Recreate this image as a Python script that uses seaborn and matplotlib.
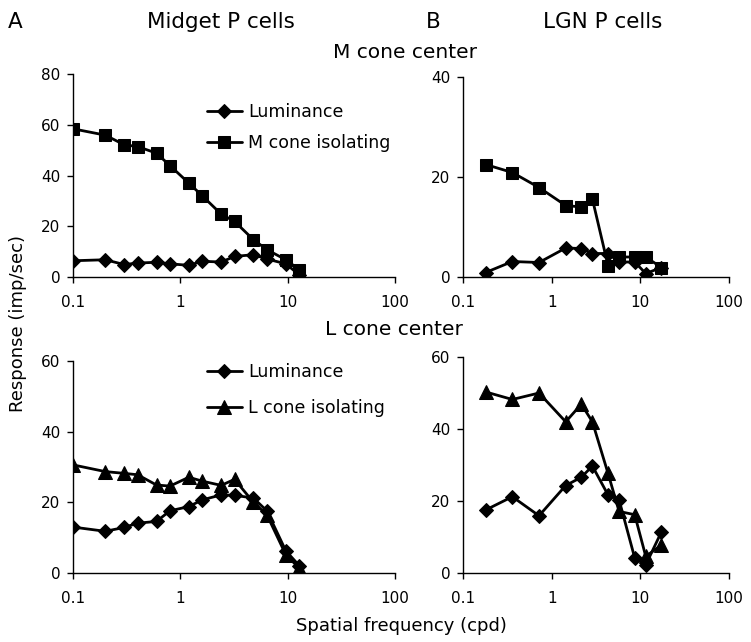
import matplotlib
matplotlib.use("Agg")
import matplotlib.pyplot as plt
import seaborn as sns
import pandas as pd

# ---- data ----
x_midget = [0.1, 0.2, 0.3, 0.4, 0.6, 0.8, 1.2, 1.6, 2.4, 3.2, 4.8, 6.4, 9.6, 12.8]
midget_M_lum = [6.4, 6.8, 4.9, 5.5, 5.8, 5.2, 4.6, 6.2, 5.9, 8.1, 8.8, 7.1, 5.2, 0.9]
midget_M_iso = [58.4, 55.9, 52.1, 51.4, 48.8, 43.9, 37.0, 32.0, 24.8, 21.9, 14.7, 10.8, 6.8, 2.6]
midget_L_lum = [13.0, 11.8, 12.9, 14.1, 14.6, 17.6, 18.8, 20.7, 22.1, 22.0, 21.2, 17.6, 6.3, 2.1]
midget_L_iso = [30.6, 28.7, 28.2, 27.8, 24.9, 24.6, 27.1, 26.0, 24.8, 26.5, 20.0, 16.5, 5.2, 1.4]

x_lgn = [0.18, 0.36, 0.72, 1.44, 2.16, 2.88, 4.32, 5.76, 8.64, 11.52, 17.28]
lgn_M_lum = [0.9, 3.1, 2.9, 5.8, 5.7, 4.7, 4.7, 3.0, 3.0, 0.7, 1.9]
lgn_M_iso = [22.5, 20.9, 17.9, 14.3, 14.0, 15.6, 2.3, 4.0, 4.0, 4.0, 1.9]
lgn_L_lum = [17.5, 21.2, 15.9, 24.3, 26.6, 29.7, 21.7, 20.3, 4.2, 2.3, 11.4]
lgn_L_iso = [50.3, 48.2, 50.0, 42.0, 46.9, 42.0, 27.7, 17.1, 16.2, 4.6, 7.8]

x_ticks = [0.1, 1, 10, 100]
x_ticklabels = ["0.1", "1", "10", "100"]
labels_M = ["Luminance", "M cone isolating"]
labels_L = ["Luminance", "L cone isolating"]

sns.set_style("ticks")
plt.rcParams["font.family"] = ["DejaVu Sans"]
plt.rcParams["text.color"] = "black"
plt.rcParams["axes.labelcolor"] = "black"

W, H = 751, 642
fig = plt.figure(figsize=(W / 100, H / 100), dpi=100)


def px_axes(left, top, right, bottom):
    return fig.add_axes([left / W, 1 - bottom / H, (right - left) / W, (bottom - top) / H])


ax_tl = px_axes(73, 74, 395, 277)
ax_tr = px_axes(463, 77, 729, 277)
ax_bl = px_axes(73, 361, 395, 573)
ax_br = px_axes(463, 357, 729, 573)


def draw(ax, x, lum, iso, iso_marker, iso_ms, labels, ymax, ystep):
    df1 = pd.DataFrame({"x": x, "y": lum})
    df2 = pd.DataFrame({"x": x, "y": iso})
    sns.lineplot(data=df1, x="x", y="y", ax=ax, color="black", lw=2.0, marker="D",
                 markersize=6.8, markeredgecolor="black", estimator=None, sort=False,
                 label=labels[0])
    sns.lineplot(data=df2, x="x", y="y", ax=ax, color="black", lw=2.0, marker=iso_marker,
                 markersize=iso_ms, markeredgecolor="black", estimator=None, sort=False,
                 label=labels[1])
    ax.set_xscale("log")
    ax.set_xlim(0.1, 100)
    ax.set_ylim(0, ymax)
    ax.set_xticks(x_ticks)
    ax.set_xticklabels(x_ticklabels)
    ax.minorticks_off()
    ax.set_yticks(list(range(0, ymax + 1, ystep)))
    ax.set_xlabel("")
    ax.set_ylabel("")
    for s in ["top", "right"]:
        ax.spines[s].set_visible(False)
    for s in ["left", "bottom"]:
        ax.spines[s].set_linewidth(1.0)
        ax.spines[s].set_color("black")
    ax.tick_params(axis="both", direction="out", length=4, width=1.0, labelsize=11,
                   colors="black", pad=5)
    ax.tick_params(axis="x", pad=9)
    ax.patch.set_alpha(0)


draw(ax_tl, x_midget, midget_M_lum, midget_M_iso, "s", 8.5, labels_M, 80, 20)
draw(ax_tr, x_lgn, lgn_M_lum, lgn_M_iso, "s", 8.5, labels_M, 40, 20)
draw(ax_bl, x_midget, midget_L_lum, midget_L_iso, "^", 9.5, labels_L, 60, 20)
draw(ax_br, x_lgn, lgn_L_lum, lgn_L_iso, "^", 9.5, labels_L, 60, 20)

ax_tr.get_legend().remove()
ax_br.get_legend().remove()

ax_tl.legend(loc="upper left", bbox_to_anchor=((207 - 73) / 322, (277 - 103) / 203),
             frameon=False, fontsize=12.5, handlelength=2.0, handletextpad=0.35,
             labelspacing=0.75, borderpad=0, borderaxespad=0)
ax_bl.legend(loc="upper left", bbox_to_anchor=((207 - 73) / 322, (573 - 363) / 212),
             frameon=False, fontsize=12.5, handlelength=2.0, handletextpad=0.35,
             labelspacing=1.05, borderpad=0, borderaxespad=0)


def ftext(x, y, s, size, **kw):
    fig.text(x / W, 1 - y / H, s, fontsize=size, color="black", ha="center", va="center", **kw)


ftext(15, 22, "A", 15.5)
ftext(221, 22, "Midget P cells", 15.5)
ftext(433, 22, "B", 15.5)
ftext(603, 22, "LGN P cells", 15.5)
ftext(405, 52, "M cone center", 14.5)
ftext(394, 330, "L cone center", 14.5)
ftext(18, 323, "Response (imp/sec)", 13, rotation=90)
ftext(401, 626, "Spatial frequency (cpd)", 13)

fig.savefig("out.png", dpi=100)
